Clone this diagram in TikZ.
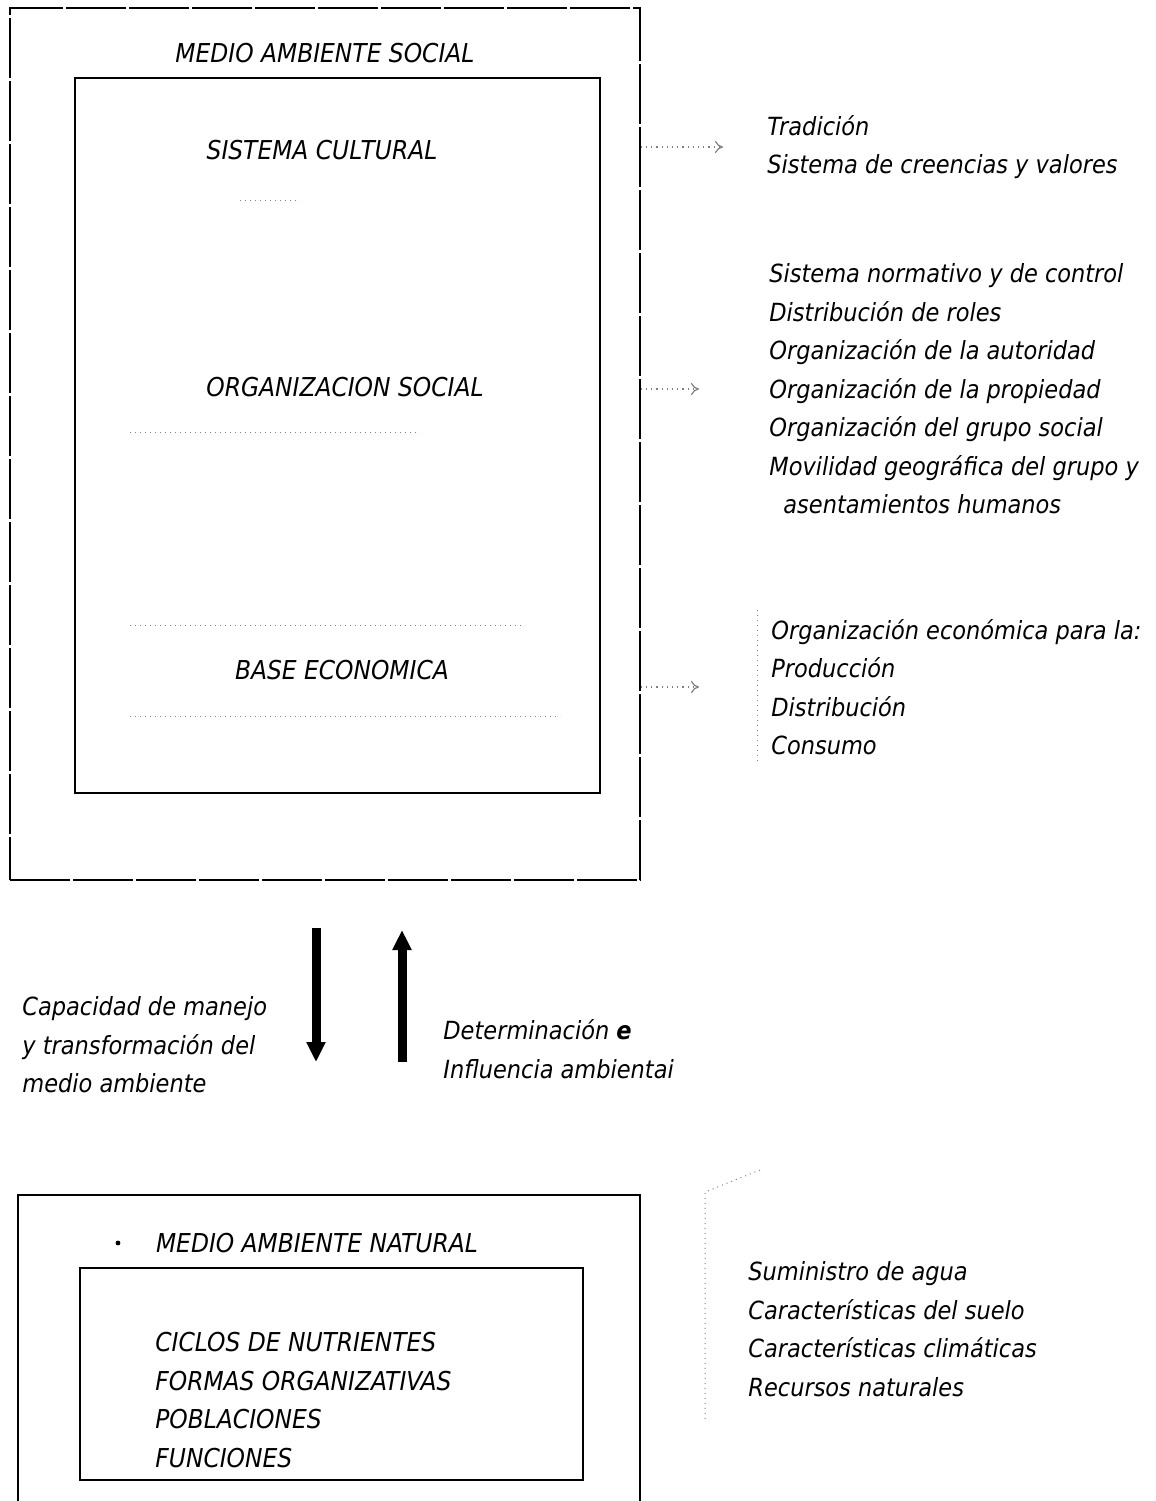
\documentclass[tikz,border=0pt]{standalone}
\usepackage{fontspec}
\setmainfont{DejaVu Sans Condensed}
\usetikzlibrary{arrows.meta,fit}

\tikzset{
  lbl/.style={font=\fontsize{12.5}{19.25}\selectfont\itshape, align=left, inner sep=0pt},
  caps/.style={lbl, font=\fontsize{13}{19.25}\selectfont\itshape},
  box/.style={draw, line width=0.6pt, inner sep=0pt},
  faint/.style={draw=gray, dotted, line width=0.5pt},
  hint/.style={gray, dotted, line width=0.6pt, -{To[length=4pt,width=6pt]}},
  bigarrow/.style={line width=4.5pt, -{Triangle[length=10pt,width=9pt]}}
}

\begin{document}
\begin{tikzpicture}[x=0.5pt,y=-0.5pt]
\useasboundingbox (0,0) rectangle (1156,1501);

% social environment
\node[box, line width=0.7pt, dash pattern=on 30pt off 1.5pt, fit={(10,8) (640,880)}] (social) {};
\node[box, fit={(75,78) (600,793)}] (socialin) {};
\node[caps] (socialtitle) at (325,53) {MEDIO AMBIENTE SOCIAL};
\node[caps] (cultural) at (322,150) {SISTEMA CULTURAL};
\node[caps] (organiza) at (345,387) {ORGANIZACION SOCIAL};
\node[caps] (economia) at (342,670) {BASE ECONOMICA};
\draw[faint] (240,200) -- (300,200);
\draw[faint] (130,432) -- (420,432);
\draw[faint] (130,625) -- (525,625);
\draw[faint] (130,716) -- (560,716);

% right hand lists
\node[lbl, anchor=west] (trad) at (767,147) {Tradición\\Sistema de creencias y valores};
\node[lbl, anchor=west] (normas) at (769,389) {Sistema normativo y de control\\Distribución de roles\\Organización de la autoridad\\Organización de la propiedad\\Organización del grupo social\\Movilidad geográfica del grupo y\\\hspace*{7pt}asentamientos humanos};
\node[lbl, anchor=west] (produc) at (771,687) {Organización económica para la:\\Producción\\Distribución\\Consumo};
\draw[faint] (757,610) -- (757,765);

\draw[hint, shorten >=22pt] (social.east |- trad.west) -- (trad.west);
\draw[hint, shorten >=35pt] (social.east |- normas.west) -- (normas.west);
\draw[hint, shorten >=36pt] (social.east |- produc.west) -- (produc.west);

% exchange
\coordinate (dtop) at (316,928);
\coordinate (dbot) at (316,1062);
\coordinate (utop) at (402,930);
\coordinate (ubot) at (402,1062);
\draw[bigarrow] (dtop) -- (dbot);
\draw[bigarrow] (ubot) -- (utop);
\node[lbl, anchor=west] (manejo) at (22,1045) {Capacidad de manejo\\y transformación del\\medio ambiente};
\node[lbl, anchor=west] (determ) at (443,1049) {Determinación \textbf{e}\\Influencia ambientai};

% natural environment
\node[box, fit={(18,1195) (640,1530)}] (natural) {};
\node[box, fit={(80,1268) (583,1480)}] (naturalin) {};
\node[caps] (naturaltitle) at (317,1243) {MEDIO AMBIENTE NATURAL};
\fill (118,1243) circle (1.2pt);
\node[caps, anchor=west] (ciclos) at (155,1400) {CICLOS DE NUTRIENTES\\FORMAS ORGANIZATIVAS\\POBLACIONES\\FUNCIONES};
\node[lbl, anchor=west] (agua) at (748,1329) {Suministro de agua\\Características del suelo\\Características climáticas\\Recursos naturales};
\draw[faint] (760,1170) -- (705,1192) -- (705,1420);
\end{tikzpicture}
\end{document}
